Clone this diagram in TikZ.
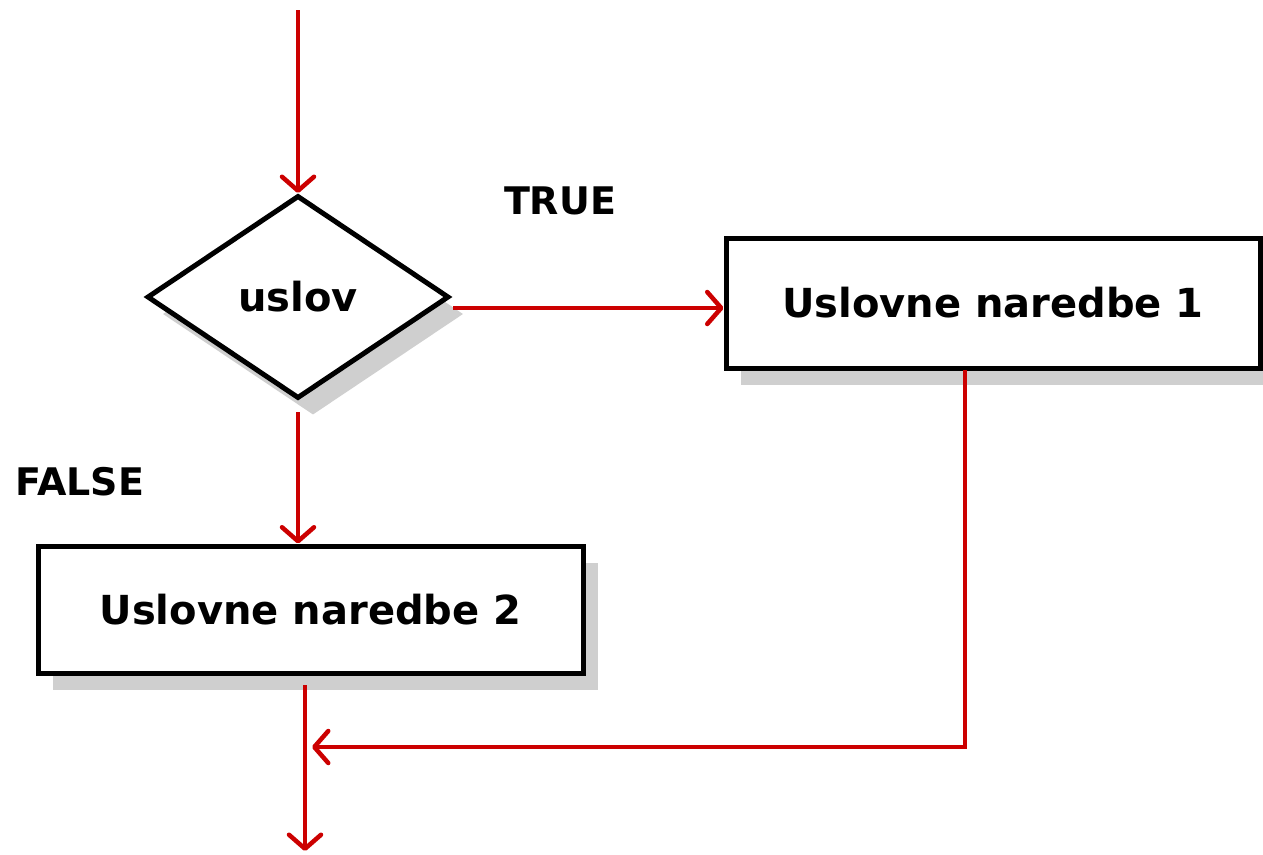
\documentclass[tikz,border=0pt]{standalone}
\usepackage{fontspec}
\setmainfont{DejaVu Sans}
\usetikzlibrary{shapes.geometric,arrows.meta,shadows}
\definecolor{flowred}{HTML}{CC0000}
\definecolor{shadowgray}{HTML}{CFCFCF}
\tikzset{
  shd/.style={general shadow={fill=shadowgray, shadow xshift=15pt, shadow yshift=-17pt}},
  box/.style={draw=black, line width=5pt, fill=white, rectangle, inner sep=0pt, shd,
    font=\fontsize{40}{48}\selectfont\bfseries},
  dia/.style={draw=black, line width=5pt, fill=white, diamond, inner sep=0pt, shd,
    font=\fontsize{40}{48}\selectfont\bfseries},
  lbl/.style={font=\fontsize{38}{46}\selectfont\bfseries, inner sep=0pt},
  arr/.style={draw=flowred, line width=4.5pt,
    -{Straight Barb[length=14pt,width=32pt,line width=4.5pt,line cap=round,line join=round]}},
}
\begin{document}
\begin{tikzpicture}[x=1pt,y=-1pt]
\useasboundingbox (0,0) rectangle (1263,854);
\node[dia, minimum width=302pt, minimum height=203pt, aspect=1.49] (d) at (298,297) {uslov};
\node[box, minimum width=534pt, minimum height=130pt] (b1) at (993,303) {Uslovne naredbe 1};
\node[box, minimum width=545pt, minimum height=127pt] (b2) at (310.5,609.5) {Uslovne naredbe 2};
\node[lbl] (t) at (560,201) {TRUE};
\node[lbl] (f) at (80,482) {FALSE};
\coordinate (top) at (298,10);
\coordinate (dr) at (453,308);
\coordinate (db) at (298,412);
\coordinate (b1b) at (965,370);
\coordinate (corner) at (965,747);
\coordinate (join) at (312,747);
\coordinate (b2b) at (305,685);
\coordinate (bot) at (305,851);
\draw[arr] (top) -- (d.north);
\draw[arr] (dr) -- (b1.west |- dr);
\draw[arr] (db) -- (b2.north -| db);
\draw[arr] (b1b) -- (corner) -- (join);
\draw[arr] (b2b) -- (bot);
\end{tikzpicture}
\end{document}
